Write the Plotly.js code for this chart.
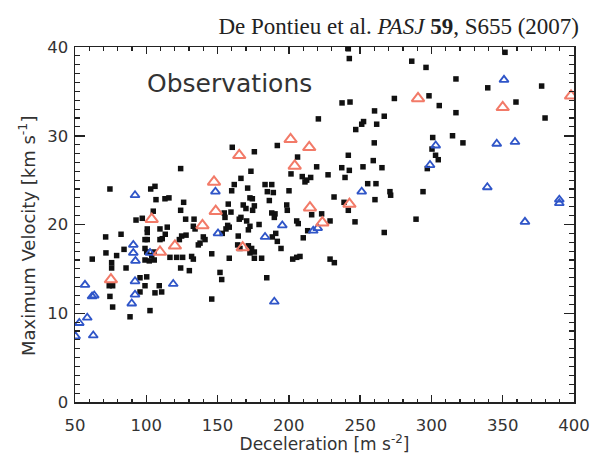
<!DOCTYPE html>
<html>
<head>
<meta charset="utf-8">
<script src="https://cdn.plot.ly/plotly-3.0.1.min.js"></script>
<style>html,body{margin:0;padding:0;background:#fff;}#chart{width:605px;height:454px;}</style>
</head>
<body>
<div id="chart"></div>
<script>
// Black points (all observations)
const blackX = [
124.1,74.5,103.1,106.1,106.8,113.1,115.9,126.2,124.1,104.9,92.8,97.2,127.6,133.5,100.7,100.7,109.6,114.7,113.3,71.5,
82.3,99.1,100.7,109.6,111.2,124.8,127.9,123.2,134.2,133.0,140.0,141.2,137.7,136.5,84.4,71.7,79.2,99.1,100.3,105.4,
103.8,116.6,121.3,125.5,131.8,133.0,145.9,62.1,75.7,75.7,99.1,102.1,105.6,85.8,124.1,130.2,95.6,100.3,99.1,109.1,
74.0,76.4,95.6,106.1,110.8,74.5,145.9,76.4,88.6,102.6,
160.3,175.8,191.9,206.1,201.5,219.5,227.5,173.4,209.4,212.5,215.3,211.3,161.7,171.1,159.9,183.3,188.0,184.9,189.1,200.1,
172.7,174.4,186.3,231.7,157.5,168.0,169.9,175.8,174.6,159.4,198.5,198.9,154.7,155.2,166.4,165.2,170.4,188.0,190.3,189.8,
205.5,206.6,223.0,228.9,157.1,155.9,158.2,172.7,171.6,179.1,164.5,153.3,190.8,188.4,213.2,210.1,191.9,194.5,164.1,165.7,
171.6,173.9,172.7,175.8,175.8,180.9,158.2,202.7,205.5,207.8,228.9,231.9,151.7,152.9,184.5,216.0,166.4,
241.7,242.4,237.3,242.9,220.7,260.1,266.9,252.4,251.1,261.6,246.9,259.9,241.7,259.2,237.1,242.4,252.0,265.3,239.4,255.3,
261.1,260.4,238.7,241.7,270.9,271.4,246.4,266.9,
286.2,296.2,351.6,317.2,339.5,377.3,274.0,298.3,359.3,305.5,317.2,379.7,300.9,314.8,322.1,300.4,302.9,304.8,297.1,294.1,
289.2
];
const blackY = [
26.3,24.0,24.0,24.3,22.8,22.9,23.0,22.5,21.6,21.5,20.5,20.7,20.6,20.6,19.5,19.1,19.5,19.7,18.9,18.6,
18.9,18.3,18.3,18.3,18.4,18.7,18.8,18.3,19.5,19.8,18.6,18.3,17.9,17.7,17.2,16.8,16.5,17.3,16.9,16.9,
16.5,16.3,16.3,16.3,16.4,16.1,16.7,16.1,15.7,15.1,16.0,15.9,16.0,15.1,15.1,14.8,14.0,14.1,13.1,13.1,
13.1,13.1,12.4,12.3,12.4,11.9,11.6,10.7,9.6,10.3,
28.7,28.2,28.9,27.6,25.7,26.5,25.6,26.0,25.4,25.0,25.3,24.8,24.5,24.1,23.8,24.5,24.5,23.7,23.6,23.8,
23.0,22.9,22.7,23.1,22.3,22.2,21.8,22.1,21.6,21.4,22.2,21.6,21.3,20.8,20.8,20.6,20.4,21.3,21.2,20.8,
20.4,20.1,21.2,20.4,19.9,19.5,19.7,19.8,19.4,20.0,18.7,19.0,19.0,18.6,19.3,18.5,18.1,17.3,17.7,17.3,
17.6,17.3,16.8,16.9,16.2,16.2,16.2,16.1,16.3,16.4,16.1,15.7,14.6,13.8,14.0,21.1,25.2,
39.8,38.7,33.7,33.8,31.9,32.8,32.2,31.6,31.3,31.3,30.7,29.2,27.8,27.2,26.4,26.1,26.5,26.4,25.3,24.6,
24.6,22.8,22.5,21.6,23.7,23.3,20.3,19.1,
38.4,37.7,39.4,36.4,35.4,35.6,34.2,34.5,33.8,33.4,32.6,32.0,29.8,30.0,29.2,28.5,27.8,27.3,26.3,23.7,
20.6
];
// Blue triangles
const blueX = [92.1,148.5,90.9,90.9,92.4,102.6,150.3,92.1,118.9,92.1,89.8,62.0,63.5,57.0,58.6,53.0,50.4,62.8,
183.3,195.4,217.1,220.2,189.8,251.1,350.9,303.0,299.0,345.8,358.6,339.2,389.7,389.7,365.6];
const blueY = [23.3,23.7,17.7,16.8,15.9,16.8,19.0,13.6,13.3,12.1,11.1,11.9,12.0,13.2,9.5,8.9,7.4,7.5,
18.6,19.9,19.3,19.6,11.3,23.7,36.3,28.9,26.7,29.1,29.3,24.2,22.8,22.4,20.3];
// Red triangles
const redX = [147.5,148.7,103.8,139.4,120.1,109.6,75.2,201.2,214.3,165.2,204.1,214.8,223.5,167.6,242.5,290.6,350.0,397.9];
const redY = [24.8,21.5,20.6,19.9,17.6,16.9,13.8,29.6,28.7,27.8,26.6,21.9,20.2,17.4,22.3,34.2,33.2,34.5];

const xTitle = 'Deceleration [m s<sup>-2</sup>]';
const yTitle = 'Maximum Velocity [km s<sup>-1</sup>]';
const label = 'Observations';
const citation = 'De Pontieu et al. <i>PASJ</i> <b>59</b>, S655 (2007)';

const axisCol = '#222';
const sans = 'DejaVu Sans, sans-serif';
const tickFont = {family: sans, size: 16.5, color: '#333'};

const traces = [
  {x: blackX, y: blackY, type: 'scatter', mode: 'markers', name: 'all',
   marker: {symbol: 'square', size: 5.5, color: '#111', line: {width: 0}}},
  {x: blueX, y: blueY, type: 'scatter', mode: 'markers', name: 'blue',
   marker: {symbol: 'triangle-up-open', size: 8, color: '#2f55c8', line: {width: 1.8, color: '#2f55c8'}}},
  {x: redX, y: redY, type: 'scatter', mode: 'markers', name: 'red',
   marker: {symbol: 'triangle-up-open', size: 11, color: '#f27a68', line: {width: 2, color: '#f27a68'}}}
];

const layout = {
  width: 605, height: 454,
  margin: {l: 75, r: 31, t: 47, b: 52},
  paper_bgcolor: '#fff', plot_bgcolor: '#fff',
  showlegend: false,
  title: {text: citation, font: {family: 'Liberation Serif, Times New Roman, serif', size: 23, color: '#222'},
          x: 579 / 605, xref: 'container', xanchor: 'right', y: 1 - 26/454, yref: 'container', yanchor: 'middle',
          pad: {t: 0, r: 0, b: 0, l: 0}},
  xaxis: {
    range: [50, 400], tick0: 50, dtick: 50,
    showline: true, linecolor: axisCol, linewidth: 1.5, mirror: 'allticks',
    ticks: 'inside', ticklen: 7, tickwidth: 1.5, tickcolor: axisCol,
    minor: {dtick: 10, ticks: 'inside', ticklen: 3.5, tickwidth: 1.2, tickcolor: axisCol},
    showgrid: false, zeroline: false, tickfont: tickFont, ticklabelstandoff: 8,
    title: {text: xTitle, font: {family: sans, size: 17, color: '#333'}, standoff: 6}
  },
  yaxis: {
    range: [0, 40], tick0: 0, dtick: 10,
    showline: true, linecolor: axisCol, linewidth: 1.5, mirror: 'allticks',
    ticks: 'inside', ticklen: 10, tickwidth: 1.5, tickcolor: axisCol,
    minor: {dtick: 1, ticks: 'inside', ticklen: 5, tickwidth: 1.2, tickcolor: axisCol},
    showgrid: false, zeroline: false, tickfont: tickFont, ticklabelstandoff: 2
  },
  annotations: [
    {text: label, xref: 'paper', yref: 'paper', x: 0.14, y: 0.896, xanchor: 'left', yanchor: 'middle',
     showarrow: false, font: {family: sans, size: 25, color: '#333'}},
    {text: yTitle, xref: 'paper', yref: 'paper', x: (27 - 75) / 499, y: (402 - 236) / 355,
     xanchor: 'center', yanchor: 'middle', textangle: -90, showarrow: false,
     font: {family: sans, size: 18, color: '#333'}}
  ]
};

Plotly.newPlot('chart', traces, layout, {displayModeBar: false, staticPlot: true});
</script>
</body>
</html>
